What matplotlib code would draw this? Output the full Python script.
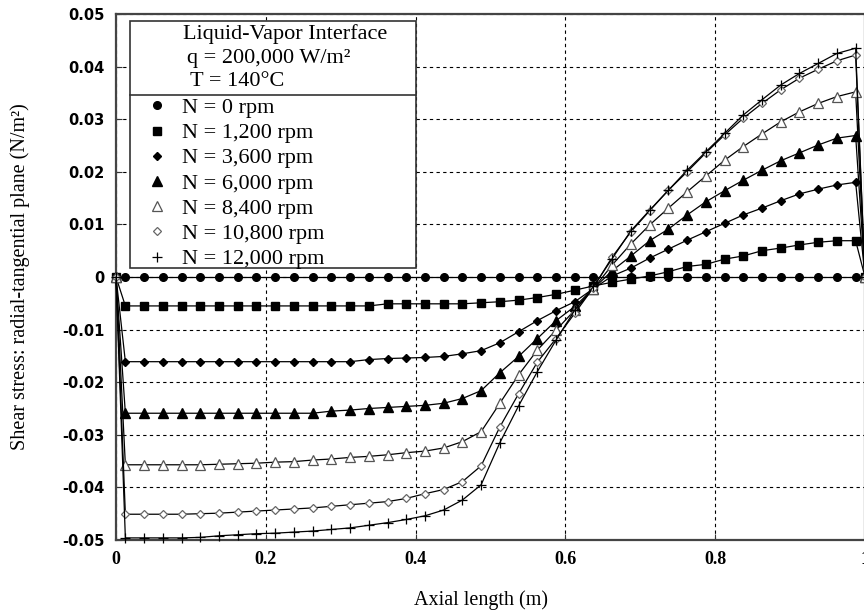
import matplotlib
matplotlib.use('Agg')
import matplotlib.pyplot as plt
from matplotlib.lines import Line2D
from matplotlib.patches import Rectangle

# axial positions (m)
x = [0.0, 0.0125, 0.0375, 0.0625, 0.0875, 0.1125, 0.1375, 0.1625, 0.1875, 0.2125,
     0.2375, 0.2625, 0.2875, 0.3125, 0.3375, 0.3625, 0.3875, 0.4125, 0.4375, 0.4625,
     0.4875, 0.5125, 0.5375, 0.5625, 0.5875, 0.6125, 0.6375, 0.6625, 0.6875, 0.7125,
     0.7375, 0.7625, 0.7875, 0.8125, 0.8375, 0.8625, 0.8875, 0.9125, 0.9375, 0.9625,
     0.9875, 1.0]

n0 = [0.0, 0.0, 0.0, 0.0, 0.0, 0.0, 0.0, 0.0, 0.0, 0.0, 0.0, 0.0, 0.0, 0.0,
      0.0, 0.0, 0.0, 0.0, 0.0, 0.0, 0.0, 0.0, 0.0, 0.0, 0.0, 0.0, 0.0, 0.0,
      0.0, 0.0, 0.0, 0.0, 0.0, 0.0, 0.0, 0.0, 0.0, 0.0, 0.0, 0.0, 0.0, 0.0]
n1200 = [0.0, -0.0055, -0.0055, -0.0055, -0.0055, -0.0055, -0.0055, -0.0055, -0.0055,
         -0.0055, -0.0055, -0.0055, -0.0055, -0.0055, -0.0055, -0.0051, -0.0051,
         -0.0051, -0.0051, -0.0051, -0.0049, -0.0047, -0.0044, -0.0039, -0.0033,
         -0.0025, -0.0017, -0.001, -0.0004, 0.0002, 0.001, 0.002, 0.0024, 0.0034,
         0.004, 0.005, 0.0055, 0.0061, 0.0066, 0.0069, 0.0069, 0.0]
n3600 = [0.0, -0.0161, -0.0161, -0.0161, -0.0161, -0.0161, -0.0161, -0.0161, -0.0161,
         -0.0161, -0.0161, -0.0161, -0.0161, -0.0161, -0.0157, -0.0155, -0.0154,
         -0.0153, -0.0151, -0.0146, -0.014, -0.0125, -0.0104, -0.0083, -0.0064,
         -0.0047, -0.0022, 0.0002, 0.0017, 0.0036, 0.0053, 0.007, 0.0086, 0.0102,
         0.0118, 0.0131, 0.0145, 0.0158, 0.0167, 0.0175, 0.018, 0.0]
n6000 = [0.0, -0.0259, -0.0259, -0.0259, -0.0259, -0.0259, -0.0259, -0.0259, -0.0259,
         -0.0259, -0.0259, -0.0259, -0.0255, -0.0253, -0.025, -0.0248, -0.0246,
         -0.0244, -0.024, -0.0231, -0.0216, -0.0182, -0.0151, -0.0117, -0.0083,
         -0.0056, -0.0022, 0.0012, 0.004, 0.0069, 0.0091, 0.0118, 0.0143, 0.0164,
         0.0184, 0.0203, 0.0221, 0.0236, 0.0251, 0.0264, 0.0269, 0.0]
n8400 = [0.0, -0.0357, -0.0357, -0.0357, -0.0357, -0.0357, -0.0356, -0.0355, -0.0354,
         -0.0352, -0.0351, -0.0348, -0.0346, -0.0343, -0.0341, -0.0338, -0.0334,
         -0.0331, -0.0325, -0.0313, -0.0294, -0.024, -0.0186, -0.0139, -0.0101,
         -0.0063, -0.0022, 0.0023, 0.0063, 0.0099, 0.0131, 0.0162, 0.0192, 0.0222,
         0.0248, 0.0272, 0.0295, 0.0314, 0.033, 0.0343, 0.0352, 0.0]
n10800 = [0.0, -0.0451, -0.0451, -0.0451, -0.0451, -0.045, -0.0449, -0.0447, -0.0445,
          -0.0443, -0.0441, -0.0439, -0.0436, -0.0433, -0.043, -0.0427, -0.0421,
          -0.0412, -0.0404, -0.0389, -0.0359, -0.0285, -0.0222, -0.0162, -0.0117,
          -0.0069, -0.002, 0.0038, 0.0086, 0.0126, 0.0165, 0.02, 0.0236, 0.027,
          0.0302, 0.033, 0.0356, 0.0378, 0.0395, 0.0411, 0.0422, 0.0]
n12000 = [0.0, -0.0496, -0.0496, -0.0496, -0.0496, -0.0495, -0.0492, -0.049, -0.0488,
          -0.0487, -0.0485, -0.0483, -0.048, -0.0477, -0.0472, -0.0467, -0.0461,
          -0.0454, -0.0443, -0.0424, -0.0395, -0.0315, -0.0245, -0.018, -0.012,
          -0.0063, -0.0018, 0.0035, 0.0088, 0.0127, 0.0165, 0.0203, 0.0238, 0.0273,
          0.0308, 0.0337, 0.0365, 0.0387, 0.0406, 0.0425, 0.0435, 0.0]

labels = ['N = 0 rpm', 'N = 1,200 rpm', 'N = 3,600 rpm', 'N = 6,000 rpm',
          'N = 8,400 rpm', 'N = 10,800 rpm', 'N = 12,000 rpm']
header = ['Liquid-Vapor Interface', 'q = 200,000 W/m\u00b2', 'T = 140\u00b0C']
xticks = [0, 0.2, 0.4, 0.6, 0.8, 1.0]
xtick_labels = ['0', '0.2', '0.4', '0.6', '0.8', '1']
yticks = [0.05, 0.04, 0.03, 0.02, 0.01, 0.0, -0.01, -0.02, -0.03, -0.04, -0.05]
ytick_labels = ['0.05', '0.04', '0.03', '0.02', '0.01', '0', '-0.01', '-0.02',
                '-0.03', '-0.04', '-0.05']

series = [n0, n1200, n3600, n6000, n8400, n10800, n12000]
styles = [
    dict(marker='o', ms=5.5, mfc='black', mec='black'),
    dict(marker='s', ms=5.5, mfc='black', mec='black'),
    dict(marker='D', ms=3.8, mfc='black', mec='black'),
    dict(marker='^', ms=6.5, mfc='black', mec='black'),
    dict(marker='^', ms=6.5, mfc='white', mec='#555555', mew=0.9),
    dict(marker='D', ms=4.2, mfc='white', mec='#666666', mew=0.9),
    dict(marker='+', ms=7.5, mfc='black', mec='black', mew=0.9),
]

serif = 'Liberation Serif'

fig = plt.figure(figsize=(8.64, 6.16), dpi=100)
ax = fig.add_axes([116 / 864, 1 - 540 / 616, 749 / 864, 526 / 616])

for ys, st in zip(series, styles):
    ax.plot(x, ys, color='black', lw=0.9, zorder=3, clip_on=False, **st)

ax.set_xlim(0, 1)
ax.set_ylim(-0.05, 0.05)
ax.set_xticks(xticks)
ax.set_xticklabels(xtick_labels, fontfamily=serif, fontweight='bold', fontsize=13)
ax.set_yticks(yticks)
ax.set_yticklabels(ytick_labels, fontfamily='DejaVu Sans', fontweight='bold', fontsize=10.5)
ax.tick_params(direction='in', length=4, width=0.8, color='#333333', pad=8)
ax.grid(True, ls=(0, (3, 3)), color='black', lw=0.8, zorder=1)
ax.set_axisbelow(True)
for sp in ax.spines.values():
    sp.set_color('#444444')
    sp.set_linewidth(1.6)

ax.set_xlabel('Axial length (m)', fontfamily=serif, fontsize=14.5)
ax.set_ylabel('Shear stress: radial-tangential plane (N/m\u00b2)', fontfamily=serif,
              fontsize=14.5)


def ax_x(px):
    return (px - 116) / 749


def ax_y(py):
    return (540 - py) / 526


ax.xaxis.set_label_coords(ax_x(481), ax_y(590))
ax.yaxis.set_label_coords(ax_x(30), 0.5)

# legend box with header block
ax.add_patch(Rectangle((ax_x(130), ax_y(268)), ax_x(416) - ax_x(130), ax_y(20.7) - ax_y(268),
                       transform=ax.transAxes, facecolor='white', edgecolor='#333333',
                       lw=1.2, zorder=5))
ax.plot([ax_x(130), ax_x(416)], [ax_y(95), ax_y(95)], transform=ax.transAxes,
        color='#333333', lw=1.2, zorder=6)
for txt, px, py in zip(header, [183, 187, 190], [34, 59, 82]):
    ax.text(ax_x(px), ax_y(py), txt, transform=ax.transAxes, fontfamily=serif,
            fontsize=16, va='center', ha='left', zorder=7)

handles = [Line2D([], [], linestyle='none', **st) for st in styles]
leg = ax.legend(handles, labels, loc='upper left', bbox_to_anchor=(ax_x(145.6), ax_y(97.5)),
                frameon=False, borderpad=0, borderaxespad=0, handlelength=1.0,
                handletextpad=0.63, labelspacing=0.21,
                prop={'family': serif, 'size': 16})
leg.set_zorder(7)

fig.savefig('out.png', dpi=100)
